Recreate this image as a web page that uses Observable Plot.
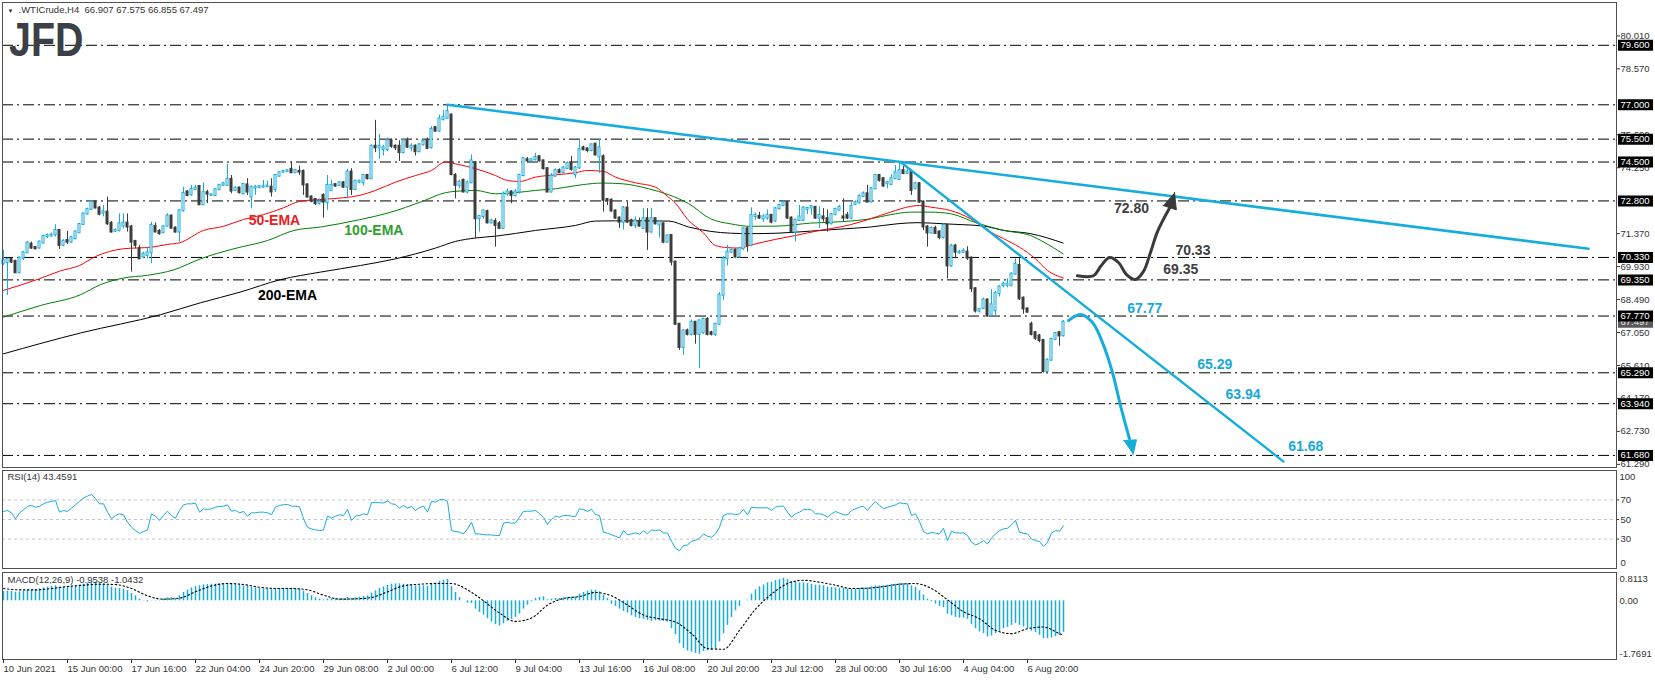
<!DOCTYPE html>
<html><head><meta charset="utf-8">
<script src="https://cdn.jsdelivr.net/npm/d3@7"></script>
<script src="https://cdn.jsdelivr.net/npm/@observablehq/plot@0.6"></script>
<style>
html,body{margin:0;padding:0;background:#fff;}
#wrap{position:relative;width:1655px;height:680px;overflow:hidden;background:#fff;}
.panel{position:absolute;left:0;}
#logo{position:absolute;z-index:3;left:9px;top:15.8px;font:bold 48px/48px "Liberation Sans",Arial,sans-serif;color:#3b3f46;transform:scaleX(0.82);transform-origin:left top;}
</style></head><body>
<div id="wrap"><div id="logo">JFD</div></div>
<script>
// ---------- DATA ----------
const open = [
70.06,70.10,70.24,70.16,69.66,70.30,70.53,70.91,70.76,70.74,
70.96,71.25,71.27,71.32,71.51,70.86,71.07,71.00,71.15,71.41,
71.77,72.23,72.43,72.75,72.49,72.27,72.31,71.82,71.47,71.51,
71.70,71.83,71.66,71.03,70.71,70.35,70.42,70.53,71.69,71.47,
71.41,71.70,72.14,71.61,71.44,72.37,73.19,73.07,73.30,73.43,
72.63,73.16,73.04,73.04,73.29,73.48,73.48,73.74,73.26,73.36,
73.11,73.50,72.97,73.36,73.38,73.40,73.42,73.40,73.30,73.88,
74.06,74.09,74.18,74.03,74.09,74.09,73.50,72.97,72.86,72.68,
73.04,72.72,73.26,73.51,73.48,73.59,73.40,74.06,73.30,73.62,
73.59,73.91,73.77,75.19,75.12,75.04,75.04,75.43,75.19,75.19,
74.91,75.40,75.12,75.19,74.95,75.25,75.43,75.12,76.00,75.85,
76.35,76.41,76.55,73.91,73.48,73.70,73.19,73.59,74.47,72.02,
72.12,72.33,71.84,71.90,71.80,71.60,73.10,73.19,73.04,73.19,
73.91,74.60,74.55,74.60,74.73,74.55,74.21,73.19,73.88,74.12,
74.03,74.21,74.43,73.95,74.24,75.12,75.07,75.00,75.28,74.73,
74.73,72.86,72.83,72.36,72.05,71.87,72.49,71.93,71.73,71.87,
71.60,72.02,71.44,72.02,71.75,71.80,71.00,71.29,70.13,67.41,
66.40,67.12,66.97,67.50,66.97,67.04,67.62,67.04,66.97,67.41,
68.68,70.27,70.56,70.64,70.35,70.71,71.58,70.86,72.12,72.12,
72.02,72.05,72.17,71.93,72.46,72.60,72.72,72.05,71.44,71.95,
71.95,72.43,72.49,72.52,72.05,72.10,72.02,71.80,72.20,72.40,
72.10,72.17,72.05,72.65,72.72,73.00,73.11,72.75,73.33,73.91,
73.77,73.55,73.52,73.77,73.74,74.12,74.00,74.06,73.33,73.55,
72.75,71.66,71.40,71.60,71.44,71.20,71.73,69.96,70.83,70.53,
70.56,70.56,70.30,68.96,67.99,68.10,68.47,67.80,68.00,68.75,
69.11,69.11,69.11,69.60,69.98,68.55,68.08,67.41,67.04,66.90,
66.70,65.35,65.84,66.75,67.04,66.907];
const high = [
70.64,70.30,70.30,70.20,70.35,70.60,71.03,71.00,70.80,71.05,
71.30,71.36,71.40,71.76,71.55,71.10,71.47,71.25,71.50,71.82,
72.28,72.48,72.82,72.80,72.55,72.60,72.97,71.90,71.58,72.23,
72.23,72.23,71.73,71.07,70.86,70.56,70.78,71.87,71.84,71.55,
71.72,72.24,72.17,71.66,72.43,73.40,73.25,73.48,73.48,73.48,
73.59,73.27,73.10,73.33,73.52,73.62,74.40,73.91,73.42,73.40,
73.56,73.77,73.45,73.48,73.48,73.70,73.66,73.77,73.95,74.06,
74.13,74.15,74.50,74.18,74.32,74.15,73.55,73.02,72.90,72.89,
73.11,73.91,73.70,73.55,73.63,73.65,74.18,74.21,73.70,73.70,
73.95,73.95,75.25,76.32,75.70,75.22,75.55,75.51,75.25,75.43,
75.48,75.55,75.30,75.25,75.31,75.50,75.55,76.05,76.05,76.55,
76.75,77.00,76.60,74.00,73.70,73.75,73.66,74.81,74.50,72.17,
72.40,72.40,72.00,72.02,71.90,73.19,73.33,73.25,73.30,73.95,
74.70,74.70,74.65,74.88,74.75,74.57,74.25,74.00,74.20,74.20,
74.30,74.50,74.75,74.30,75.43,75.19,75.12,75.28,75.30,75.50,
74.81,72.89,72.89,72.40,72.10,72.55,72.75,72.00,72.10,72.05,
72.46,72.46,72.46,72.05,71.95,71.84,71.30,71.30,70.15,67.45,
67.17,67.20,67.60,67.50,67.60,67.68,67.70,67.10,67.45,68.80,
70.37,70.86,70.70,70.70,70.78,71.62,71.63,72.50,72.27,72.30,
72.20,72.40,72.20,72.50,72.66,72.80,72.75,72.10,72.00,72.60,
72.55,72.52,72.60,72.55,72.55,72.46,72.40,72.25,72.48,72.60,
72.89,72.30,72.72,72.80,73.07,73.20,73.48,73.38,73.95,73.95,
73.80,73.65,73.95,74.35,74.50,74.30,74.15,74.10,73.62,73.60,
72.80,71.73,71.66,71.70,71.50,71.80,71.75,70.90,70.90,70.64,
70.71,70.80,70.35,69.00,68.10,68.55,68.52,68.93,68.85,69.10,
69.25,69.40,69.65,70.27,70.30,68.60,68.12,67.50,67.10,66.97,
66.75,65.90,66.80,67.05,67.10,67.575];
const low = [
69.98,68.67,70.06,69.66,69.62,70.20,70.50,70.68,70.66,70.70,
70.93,71.15,71.22,71.22,70.68,70.80,70.89,70.95,71.10,71.38,
71.73,72.17,72.38,72.45,72.15,72.10,71.73,71.40,71.44,71.44,
71.58,71.44,69.69,70.71,70.24,70.27,70.27,70.06,71.41,71.30,
71.38,71.66,71.58,71.40,71.00,72.31,72.98,73.00,73.25,72.60,
72.60,72.68,73.00,73.00,73.25,73.45,73.45,73.11,73.22,73.10,
73.07,73.04,72.46,73.04,73.33,73.36,73.38,72.97,73.16,73.85,
73.99,74.05,74.00,74.00,73.91,73.04,72.93,72.72,72.60,72.63,
72.05,72.39,73.22,73.40,73.45,73.36,72.89,73.04,73.25,73.55,
73.45,73.72,73.74,74.91,74.62,74.76,74.95,75.10,75.00,74.52,
74.86,75.10,74.95,74.76,74.91,75.20,75.04,75.07,75.80,75.80,
76.30,76.38,73.90,72.89,73.33,73.15,73.10,73.55,71.15,71.44,
72.00,71.80,71.80,70.78,71.55,71.55,73.00,72.68,72.97,73.10,
73.85,74.50,74.50,74.55,74.50,74.15,73.15,73.15,73.85,74.00,
74.00,74.18,74.10,73.77,74.18,74.99,74.90,74.95,74.76,74.00,
72.31,72.60,72.31,71.99,71.60,71.53,71.84,71.66,71.58,71.66,
71.55,70.64,71.40,71.75,71.18,70.93,70.97,69.96,67.35,66.27,
66.05,66.90,66.90,66.54,65.47,66.97,66.90,66.90,66.88,67.35,
68.45,69.96,70.50,70.30,70.30,70.64,70.56,70.80,71.95,71.99,
71.87,71.95,71.80,71.87,72.40,72.55,72.00,71.40,71.00,71.90,
71.90,72.20,72.17,72.00,71.60,71.87,71.44,71.75,72.15,72.35,
71.90,71.99,71.99,72.60,72.66,72.95,72.72,72.72,73.30,73.62,
73.40,73.33,73.48,73.74,73.70,73.95,73.95,73.04,73.30,72.70,
71.50,70.78,71.35,71.35,71.10,71.15,69.40,69.90,70.27,70.47,
70.50,70.20,68.80,67.90,67.90,68.05,67.72,67.77,67.77,68.60,
69.00,69.00,69.04,69.55,68.45,67.85,67.90,66.90,66.70,66.60,
65.28,65.30,65.80,66.70,66.45,66.855];
const close = [
70.20,70.24,70.13,69.66,70.30,70.53,70.96,70.74,70.71,71.00,
71.25,71.29,71.31,71.51,70.86,71.04,71.00,71.19,71.44,71.77,
72.23,72.43,72.75,72.49,72.22,72.32,71.80,71.44,71.51,71.80,
71.83,71.66,71.00,70.86,70.27,70.47,70.53,71.73,71.44,71.37,
71.66,72.14,71.61,71.44,72.37,73.13,73.04,73.30,73.36,72.63,
73.16,73.10,73.07,73.29,73.48,73.55,73.74,73.23,73.36,73.16,
73.52,73.19,73.40,73.40,73.42,73.42,73.45,73.19,73.91,74.03,
74.09,74.12,74.03,74.13,74.06,73.50,72.97,72.79,72.68,72.75,
72.75,73.48,73.48,73.45,73.59,73.40,74.06,73.30,73.66,73.66,
73.91,73.77,75.19,75.12,75.19,75.12,75.43,75.19,75.12,74.91,
75.43,75.15,75.19,74.95,75.25,75.40,75.10,75.93,75.85,76.38,
76.45,76.70,73.95,73.48,73.62,73.19,73.59,74.55,72.02,72.12,
72.36,71.84,71.93,71.73,71.60,73.10,73.19,73.04,73.19,73.91,
74.65,74.55,74.60,74.70,74.55,74.21,73.19,73.88,74.12,74.03,
74.24,74.43,74.18,74.24,75.04,75.04,75.00,75.25,74.81,75.12,
72.83,72.80,72.36,72.05,71.87,72.49,71.87,71.73,71.93,71.70,
72.02,71.44,72.02,71.80,71.87,71.00,71.27,70.13,67.41,66.40,
67.12,66.97,67.50,66.97,67.56,67.62,66.97,66.97,67.41,68.68,
70.27,70.56,70.64,70.35,70.71,71.58,70.86,72.17,72.17,72.05,
72.10,72.17,71.87,72.46,72.60,72.72,72.05,71.44,71.95,72.10,
72.49,72.47,72.55,72.05,72.17,72.02,71.80,72.20,72.43,72.52,
72.05,72.05,72.55,72.72,73.00,73.11,72.75,73.33,73.91,73.70,
73.45,73.60,73.77,74.03,74.12,74.00,74.06,73.26,73.55,72.75,
71.66,71.40,71.60,71.38,71.20,71.73,69.96,70.83,70.56,70.56,
70.60,70.30,68.96,67.99,68.05,68.47,67.77,68.26,68.75,69.04,
69.16,69.16,69.60,70.03,68.52,68.08,67.94,66.97,66.80,66.70,
65.35,65.84,66.75,67.00,66.90,67.497];

const ema50Bar = [0,9,14,19,23,30,37,41,44,50,55,60,65,70,74,80,85,89,93,98,103,107,110.5,113,118,123,126,129,133,138,143,146,150,153,158,163,166,168,171,175,178,181,184,187,193,198,204,210,216.75,221.75,226.75,229,231.75,236.75,241.75,246,250,254,258,261,265];
const ema50Val = [68.89,69.40,69.73,69.98,70.37,70.71,70.78,70.90,70.97,71.51,71.69,71.99,72.20,72.50,72.78,72.87,72.94,73.04,73.26,73.62,73.91,74.13,74.50,74.42,74.21,73.91,73.69,73.65,73.84,73.94,74.03,74.13,74.09,73.84,73.59,73.40,73.00,72.70,72.00,71.40,70.85,70.76,70.74,70.88,71.12,71.29,71.51,71.69,72.02,72.31,72.56,72.60,72.53,72.38,72.02,71.51,71.15,70.78,70.27,69.76,69.43];
const ema100Bar = [0,9.25,19.25,24.25,30,36,42.6,49.25,57.6,66,72.6,79.25,89,96.3,104.7,110.5,113,118,123,128,133,138,144.7,149.7,154.7,161.3,166.3,171.3,176.75,181.75,186.75,193.4,201.75,210.1,216.75,221.75,226.75,231.75,236.75,243.4,250.1,256.75,260.1,264.9];
const ema100Val = [67.72,68.23,68.70,69.14,69.43,69.55,69.79,70.27,70.71,71.07,71.51,71.66,71.98,72.28,72.78,73.16,73.22,73.26,73.11,73.16,73.26,73.33,73.51,73.58,73.55,73.33,73.07,72.68,72.02,71.80,71.69,71.70,71.83,71.90,72.02,72.20,72.31,72.31,72.24,71.83,71.51,71.29,71.00,70.49];
const ema200Bar = [0,19.25,39.25,49.25,59.25,69.25,79.25,89.25,98,108,113,118,123,133,143,148,153,159.7,166.3,171.3,176.75,181.75,186.75,193.4,201.75,210.1,216.75,223.4,228.4,235.1,240.1,245.1,250.1,256.75,264.9];
const ema200Val = [66.12,67.03,67.83,68.35,68.82,69.36,69.69,69.98,70.27,70.74,71.03,71.18,71.26,71.51,71.73,71.92,71.93,71.93,71.92,71.66,71.47,71.39,71.37,71.39,71.48,71.58,71.66,71.80,71.85,71.80,71.76,71.70,71.51,71.37,70.96];

const rsi = [
58.2,59.2,56.8,50.7,56.8,59.9,63.3,64.4,62.6,63.3,
66.0,67.7,68.4,69.4,57.5,59.2,58.2,61.6,65.0,68.4,
71.9,73.9,75.6,71.2,66.0,66.0,57.5,50.7,54.1,55.8,
54.8,47.3,42.1,38.7,36.0,37.7,39.4,55.8,53.4,49.0,
54.1,58.5,54.1,51.4,59.2,65.0,66.0,66.0,66.7,57.5,
60.9,60.2,60.9,62.6,63.3,63.6,65.0,58.5,59.2,56.8,
58.2,53.4,56.8,56.8,57.5,57.5,56.8,54.8,62.6,64.4,
65.0,65.4,63.6,63.6,63.0,50.7,42.1,40.4,39.4,38.7,
39.4,53.4,51.4,53.4,54.8,54.1,60.2,49.0,53.4,54.1,
55.8,54.8,67.2,67.2,67.2,66.8,68.9,66.0,65.4,61.6,
64.4,61.6,63.3,59.2,62.2,63.6,57.5,68.4,67.7,70.1,
70.4,68.4,38.7,37.7,37.0,35.3,40.4,47.3,35.3,35.3,
34.6,34.3,34.3,33.6,33.6,46.2,47.3,46.2,46.6,52.4,
58.2,58.5,58.5,59.2,55.8,52.4,44.9,50.0,53.4,52.4,
54.1,54.1,53.4,53.1,60.9,60.2,58.2,60.2,55.1,54.1,
37.0,36.0,34.3,32.9,31.2,38.7,34.3,35.3,36.3,35.0,
38.7,35.3,39.4,38.7,39.4,36.3,36.3,27.8,20.6,18.2,
23.3,24.0,27.8,28.8,30.9,35.3,32.9,31.9,35.3,42.1,
54.1,55.8,55.8,54.8,55.8,60.2,54.8,62.6,61.9,61.9,
61.9,61.9,59.2,62.6,63.6,63.6,57.5,52.4,55.8,57.5,
60.2,60.2,59.9,55.8,55.8,54.8,52.4,55.8,58.2,56.5,
54.8,54.8,59.2,60.9,62.6,63.6,59.2,64.4,68.4,64.4,
60.9,62.6,63.6,65.0,67.0,66.3,66.0,54.1,55.8,47.9,
37.7,35.3,37.0,36.0,35.3,41.1,28.5,38.0,36.3,36.3,
36.3,33.6,26.8,24.0,25.7,28.5,25.0,30.9,35.3,38.7,
40.4,41.1,44.5,49.0,37.0,36.0,35.3,30.2,28.5,27.5,
22.6,26.8,36.0,38.7,38.0,43.5];

const macdHist = [
0.28,0.29,0.28,0.26,0.27,0.29,0.32,0.33,0.34,0.36,
0.39,0.41,0.43,0.45,0.41,0.41,0.41,0.42,0.44,0.47,
0.50,0.53,0.56,0.56,0.54,0.51,0.47,0.41,0.38,0.37,
0.35,0.31,0.22,0.15,0.05,0.01,-0.03,0.01,0.01,0.02,
0.05,0.09,0.09,0.07,0.15,0.25,0.32,0.39,0.43,0.45,
0.48,0.49,0.50,0.50,0.51,0.52,0.53,0.51,0.50,0.47,
0.45,0.43,0.40,0.39,0.37,0.36,0.35,0.33,0.35,0.37,
0.38,0.38,0.38,0.37,0.35,0.29,0.22,0.15,0.09,0.05,
0.02,0.05,0.06,0.06,0.06,0.06,0.10,0.07,0.09,0.11,
0.13,0.15,0.23,0.30,0.37,0.42,0.47,0.50,0.51,0.51,
0.50,0.49,0.47,0.45,0.45,0.45,0.43,0.50,0.54,0.59,
0.62,0.64,0.43,0.25,0.10,0.00,-0.07,-0.08,-0.25,-0.35,
-0.43,-0.54,-0.64,-0.72,-0.76,-0.69,-0.62,-0.56,-0.50,-0.40,
-0.25,-0.13,-0.03,0.07,0.10,0.12,0.03,0.05,0.07,0.07,
0.09,0.10,0.11,0.12,0.20,0.25,0.29,0.32,0.32,0.27,
0.17,0.07,-0.10,-0.17,-0.25,-0.32,-0.37,-0.45,-0.50,-0.54,
-0.56,-0.59,-0.62,-0.60,-0.61,-0.62,-0.64,-0.84,-1.02,-1.29,
-1.44,-1.51,-1.55,-1.59,-1.61,-1.53,-1.51,-1.50,-1.46,-1.24,
-0.99,-0.74,-0.50,-0.30,-0.17,0.00,0.02,0.20,0.33,0.42,
0.48,0.54,0.56,0.61,0.64,0.68,0.64,0.58,0.56,0.54,
0.54,0.52,0.50,0.47,0.47,0.45,0.41,0.40,0.39,0.38,
0.37,0.35,0.35,0.35,0.37,0.39,0.39,0.42,0.45,0.45,
0.45,0.47,0.49,0.50,0.52,0.52,0.51,0.45,0.40,0.30,
0.17,0.05,-0.03,-0.10,-0.17,-0.21,-0.40,-0.45,-0.50,-0.52,
-0.52,-0.56,-0.72,-0.84,-0.94,-0.99,-1.09,-1.06,-0.99,-0.92,
-0.84,-0.80,-0.74,-0.68,-0.74,-0.79,-0.84,-0.92,-0.96,-1.04,
-1.14,-1.14,-1.12,-1.08,-1.04,-0.95];
const signalBar = [0,4,8,12,16,20,24,28,32,36,40,44,48,52,56,60,64,68,72,76,80,84,88,92,96,100,104,108,112,116,120,124,128,132,136,140,144,148,152,156,160,164,168,172,176,180,184,188,192,196,200,204,208,212,216,220,224,228,232,236,240,244,248,252,256,260,264,265];
const signalVal = [0.37,0.33,0.33,0.37,0.43,0.47,0.50,0.49,0.37,0.15,0.05,0.08,0.27,0.45,0.52,0.49,0.41,0.37,0.37,0.33,0.17,0.05,0.06,0.10,0.27,0.45,0.50,0.52,0.52,0.33,0.00,-0.37,-0.62,-0.52,-0.13,0.07,0.13,0.25,0.15,-0.13,-0.43,-0.54,-0.64,-0.99,-1.44,-1.46,-0.89,-0.25,0.20,0.52,0.62,0.56,0.47,0.37,0.38,0.43,0.50,0.52,0.37,0.03,-0.33,-0.54,-0.89,-0.99,-0.84,-0.79,-0.99,-1.04];

const levels = [79.60,77.00,75.50,74.50,72.80,70.33,69.35,67.77,65.29,63.94,61.68];
const priceTicks = [80.01,78.57,75.69,74.25,71.37,69.93,68.49,67.05,65.61,64.17,62.73,61.29];
const lastPrice = [67.497];
const rsiLevels = [70,50,30];
const macdLabels = [0.8113, 0.00, -1.7691];
const dateTickBar = [0,16,32,48,64,80,96,112,128,144,160,176,192,208,224,240,256];
const dateTickLabel = ["10 Jun 2021","15 Jun 00:00","17 Jun 16:00","22 Jun 04:00","24 Jun 20:00","29 Jun 08:00","2 Jul 00:00","6 Jul 12:00","9 Jul 04:00","13 Jul 16:00","16 Jul 08:00","20 Jul 20:00","23 Jul 12:00","28 Jul 00:00","30 Jul 16:00","4 Aug 04:00","6 Aug 20:00"];

// annotations (bar index, price)
const trendABar = [111, 396.25], trendAPrice = [77.0, 70.71];
const trendBBar = [224.25, 320], trendBPrice = [74.5, 61.41];
const blueArrowBar = [266.25, 269.25, 272.25, 274.75, 277.25, 279.25, 281.5];
const blueArrowPrice = [67.57, 67.84, 67.49, 66.61, 65.30, 63.86, 62.40];
const blueHeadBar = [280.0, 283.25, 282.4];
const blueHeadPrice = [62.33, 62.36, 61.72];
const darkArrowBar = [268.5, 272.5, 274.25, 276.5, 278.75, 280.75, 283, 285, 286.75, 288.5, 291.55];
const darkArrowPrice = [69.53, 69.53, 69.93, 70.33, 70.11, 69.58, 69.37, 69.72, 70.55, 71.46, 72.50];
const darkHeadBar = [289.89, 293.21, 292.75];
const darkHeadPrice = [72.60, 72.41, 73.17];
const noteText = ["72.80","70.33","69.35","67.77","65.29","63.94","61.68","50-EMA","100-EMA","200-EMA"];
const noteBar = [282, 297.35, 294.3, 285.3, 302.8, 309.9, 325.55, 67.75, 92.6, 71];
const notePrice = [72.48, 70.63, 69.79, 68.09, 65.67, 64.34, 62.07, 71.94, 71.51, 68.67];
const noteColor = ["#404040","#404040","#404040","#17a9db","#17a9db","#17a9db","#17a9db","#e8201e","#2f9f2f","#000000"];

const titleText = ".WTICrude,H4  66.907 67.575 66.855 67.497";
const rsiTitle = "RSI(14) 43.4591";
const macdTitle = "MACD(12,26,9) -0.9538 -1.0432";

// ---------- DRAW ----------
const BLUE = "#16acdc", DARK = "#3c3c3c", FRAME = "#505050";
const xDomain = [-0.25, 403.25];
const FONT = '"Liberation Sans", Arial, sans-serif';
const common = {
  width: 1655, marginLeft: 2, marginRight: 39,
  x: {domain: xDomain, axis: null},
  style: {fontFamily: FONT, fontSize: "9.5px", color: "#333", background: "none", overflow: "visible"}
};
const boxSymbol = {draw(ctx) { ctx.rect(-17.5, -5.5, 35, 11); }};
const atRight = () => xDomain[1];

const bars = open.map((o, i) => ({i, o, h: high[i], l: low[i], c: close[i]}));
const up = bars.filter(d => d.c >= d.o);
const dn = bars.filter(d => d.c < d.o);
const lineOf = (bx, vals, opts) => Plot.line(vals, {x: (d, i) => bx[i], y: d => d, ...opts});

const main = Plot.plot({
  ...common, height: 469, marginTop: 2, marginBottom: 2,
  y: {domain: [61.152, 81.47], axis: null},
  marks: [
    Plot.ruleY(levels, {y: d => d, stroke: "#000", strokeWidth: 1, strokeDasharray: "11,4,2,4"}),
    lineOf(ema200Bar, ema200Val, {stroke: "#000", strokeWidth: 1, curve: "monotone-x"}),
    lineOf(ema100Bar, ema100Val, {stroke: "#008000", strokeWidth: 1, curve: "monotone-x"}),
    lineOf(ema50Bar, ema50Val, {stroke: "#ff0000", strokeWidth: 1, curve: "monotone-x"}),
    Plot.ruleX(up, {x: "i", y1: "l", y2: "h", stroke: BLUE, strokeWidth: 1}),
    Plot.ruleX(dn, {x: "i", y1: "l", y2: "h", stroke: DARK, strokeWidth: 1}),
    Plot.rect(up, {x1: d => d.i - 0.25, x2: d => d.i + 0.25, y1: "o", y2: "c", fill: "#fff", stroke: BLUE, insetTop: -0.5, insetBottom: -0.5}),
    Plot.rect(dn, {x1: d => d.i - 0.25, x2: d => d.i + 0.25, y1: "o", y2: "c", fill: DARK, stroke: DARK, insetTop: -0.5, insetBottom: -0.5}),
    lineOf(trendABar, trendAPrice, {stroke: BLUE, strokeWidth: 2.6}),
    lineOf(trendBBar, trendBPrice, {stroke: BLUE, strokeWidth: 2.4}),
    lineOf(blueArrowBar, blueArrowPrice, {stroke: BLUE, strokeWidth: 3, curve: "catmull-rom", strokeLinecap: "round"}),
    lineOf(blueHeadBar, blueHeadPrice, {fill: BLUE, stroke: BLUE, strokeWidth: 1}),
    lineOf(darkArrowBar, darkArrowPrice, {stroke: "#3a3a3a", strokeWidth: 3, curve: "catmull-rom", strokeLinecap: "round"}),
    lineOf(darkHeadBar, darkHeadPrice, {fill: "#3a3a3a", stroke: "#3a3a3a", strokeWidth: 1}),
    ...noteText.map((t, k) => Plot.text([t], {x: () => noteBar[k], y: () => notePrice[k], text: d => d, fill: noteColor[k], fontSize: 14, fontWeight: "bold", fontFamily: FONT})),
    Plot.frame({stroke: FRAME}),
    Plot.axisY({anchor: "right", ticks: priceTicks, tickFormat: d => d.toFixed(3), tickSize: 3, tickPadding: 1, label: null}),
    Plot.dot(lastPrice, {x: atRight, y: d => d, dx: 19, symbol: boxSymbol, fill: "#5a5a5a"}),
    Plot.text(lastPrice, {x: atRight, y: d => d, dx: 4, text: d => d.toFixed(3), textAnchor: "start", fill: "#e8e8e8"}),
    Plot.dot(levels, {x: atRight, y: d => d, dx: 19, symbol: boxSymbol, fill: "#000"}),
    Plot.text(levels, {x: atRight, y: d => d, dx: 4, text: d => d.toFixed(3), textAnchor: "start", fill: "#fff"}),
    Plot.text(["\u25BC"], {frameAnchor: "top-left", dx: 5, dy: 6, fontSize: 6, textAnchor: "start", lineAnchor: "top", fill: "#333"}),
    Plot.text([titleText], {frameAnchor: "top-left", dx: 16, dy: 4, textAnchor: "start", lineAnchor: "top", fill: "#333"})
  ]
});

const rsiPlot = Plot.plot({
  ...common, height: 102, marginTop: 2, marginBottom: 2,
  y: {domain: [0, 100], axis: null},
  marks: [
    Plot.ruleY(rsiLevels, {y: d => d, stroke: "#c4c4c4", strokeDasharray: "3,3"}),
    Plot.line(rsi, {x: (d, i) => i, y: d => d, stroke: BLUE, strokeWidth: 1}),
    Plot.frame({stroke: FRAME}),
    Plot.axisY({anchor: "right", ticks: rsiLevels, tickSize: 2, tickPadding: 2, label: null}),
    Plot.text([100], {y: d => d, frameAnchor: "right", dx: 3, dy: 6, text: d => String(d), textAnchor: "start"}),
    Plot.text([0], {y: d => d, frameAnchor: "right", dx: 4, dy: -6, text: d => String(d), textAnchor: "start"}),
    Plot.text([rsiTitle], {frameAnchor: "top-left", dx: 5, dy: 3, textAnchor: "start", lineAnchor: "top", fill: "#333"})
  ]
});

const macdPlot = Plot.plot({
  ...common, height: 110, marginTop: 2, marginBottom: 21,
  y: {domain: [-1.7691, 0.853], axis: null},
  marks: [
    Plot.ruleX(macdHist, {x: (d, i) => i, y1: 0, y2: d => d, stroke: BLUE, strokeWidth: 1.5}),
    lineOf(signalBar, signalVal, {stroke: "#000", strokeWidth: 1.1, strokeDasharray: "1.5,2.5", curve: "monotone-x"}),
    Plot.frame({stroke: FRAME}),
    Plot.text(macdLabels, {y: d => d, frameAnchor: "right", dx: 3, text: d => (d === 0 ? "0.00" : String(d)), textAnchor: "start"}),
    Plot.text([macdTitle], {frameAnchor: "top-left", dx: 5, dy: 3.5, textAnchor: "start", lineAnchor: "top", fill: "#333"}),
    Plot.axisX({ticks: dateTickBar, tickFormat: d => dateTickLabel[dateTickBar.indexOf(d)], tickSize: 4, tickPadding: 2, textAnchor: "start", label: null})
  ]
});

// MT4 keeps the top/bottom MACD scale labels inside the panel
d3.select(macdPlot).selectAll("text").each(function() {
  const t = this.textContent;
  if (t === "0.8113") this.setAttribute("dy", "5");
  if (t === "-1.7691") this.setAttribute("dy", "-6");
});

const wrap = document.getElementById("wrap");
[[main, 0], [rsiPlot, 468], [macdPlot, 570]].forEach(([svg, top]) => {
  const div = document.createElement("div");
  div.className = "panel";
  div.style.top = top + "px";
  div.appendChild(svg);
  wrap.insertBefore(div, document.getElementById("logo"));
});
</script></body></html>
